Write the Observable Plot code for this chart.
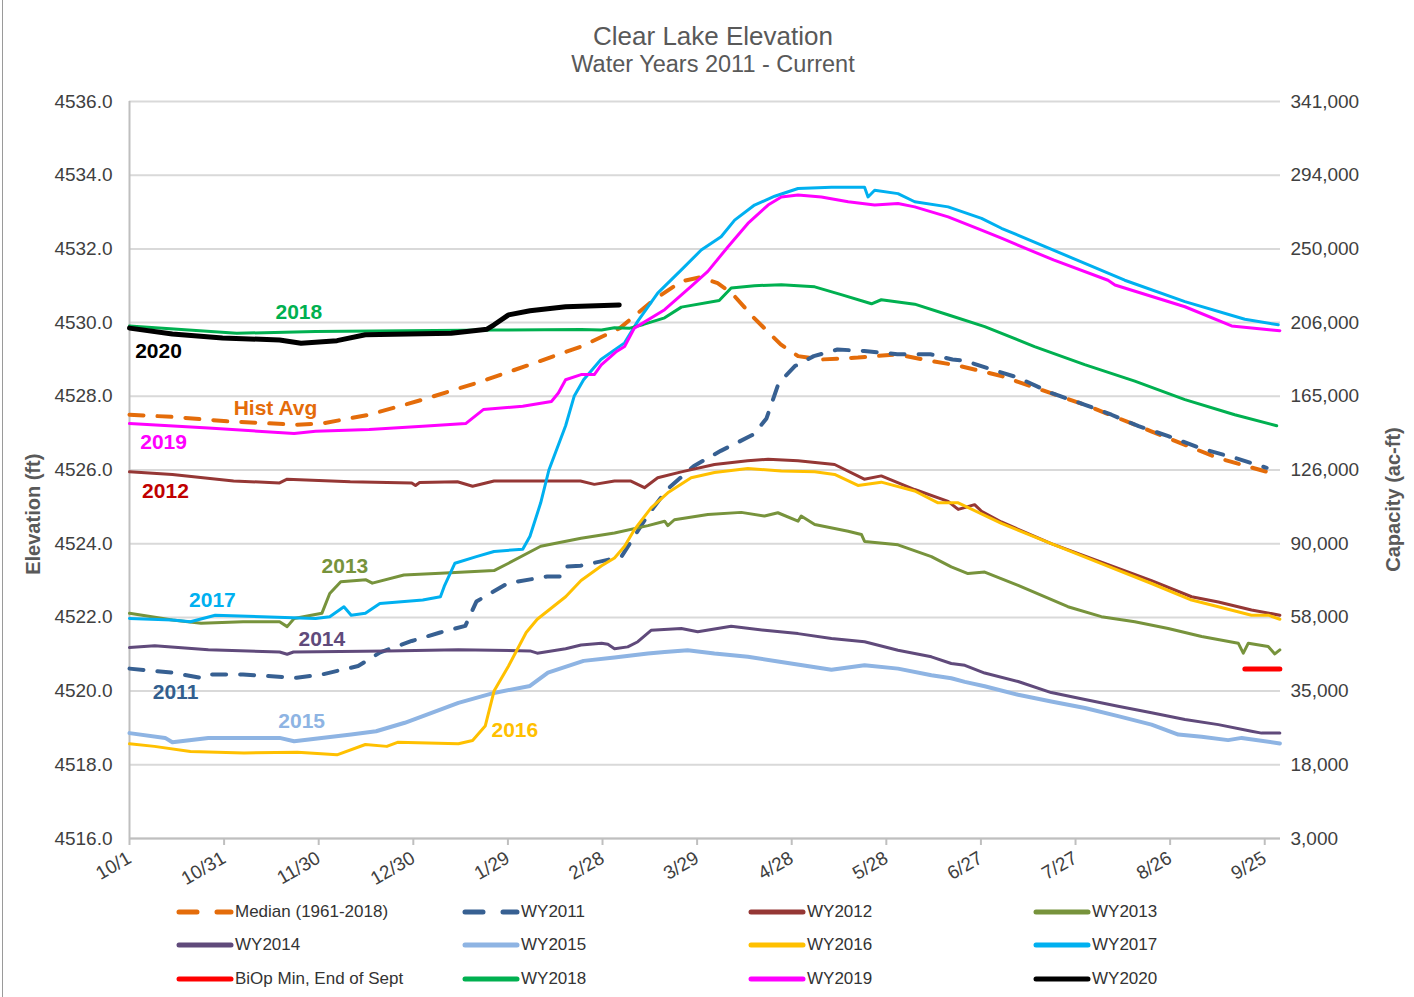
<!DOCTYPE html>
<html>
<head>
<meta charset="utf-8">
<script src="https://cdn.jsdelivr.net/npm/d3@7"></script>
<script src="https://cdn.jsdelivr.net/npm/@observablehq/plot@0.6"></script>
<style>
  body { margin: 0; background: #fff; font-family: "Liberation Sans", Arial, sans-serif; }
  #wrap { position: relative; width: 1414px; height: 997px; overflow: hidden; background: #fff; }
  .ttl { position: absolute; left: 6px; width: 1414px; text-align: center; color: #595959; white-space: nowrap; }
  #chart { position: absolute; left: 0; top: 0; }
  .leg { position: absolute; height: 20px; display: flex; align-items: center; font-size: 17px; color: #333; white-space: nowrap; }
  .leg svg { display: block; margin-right: 1px; }
  #edge { position: absolute; left: 2px; top: 0; width: 1px; height: 997px; background: #9a9a9a; }
</style>
</head>
<body>
<div id="wrap">
  <div id="edge"></div>
  <div id="chart"></div>
  <div class="ttl" style="top:23px;font-size:26px;line-height:26px;">Clear Lake Elevation</div>
  <div class="ttl" style="top:53px;font-size:23.5px;line-height:23px;">Water Years 2011 - Current</div>
  <div id="legend"></div>
</div>
<script>
// ---------- axis tick data ----------
const elevTicks = [4516, 4518, 4520, 4522, 4524, 4526, 4528, 4530, 4532, 4534, 4536];
const capLabels = ["3,000", "18,000", "35,000", "58,000", "90,000", "126,000", "165,000", "206,000", "250,000", "294,000", "341,000"];
const tickDays = [0, 30, 60, 90, 120, 150, 180, 210, 240, 270, 300, 330, 360];
const dateLabels = ["10/1", "10/31", "11/30", "12/30", "1/29", "2/28", "3/29", "4/28", "5/28", "6/27", "7/27", "8/26", "9/25"];

// ---------- series: [day of water year, elevation ft] ----------
const median = [[0,4527.50],[14,4527.44],[31,4527.32],[53,4527.23],[61,4527.26],[76,4527.50],[93,4527.91],[110,4528.36],[127,4528.86],[143.5,4529.36],[155.5,4529.85],[166,4530.6],[175,4531.12],[181,4531.23],[186.5,4531.07],[191,4530.8],[198,4530.13],[206.5,4529.41],[212,4529.09],[219.5,4529.0],[231,4529.05],[243.5,4529.14],[254,4528.96],[263,4528.83],[276.5,4528.55],[292,4528.09],[303,4527.77],[313.5,4527.41],[324,4527.05],[334.5,4526.69],[345,4526.33],[361.5,4525.93]];
const wy2011 = [[0,4520.61],[13.6,4520.5],[22.7,4520.36],[25,4520.45],[36,4520.45],[53,4520.36],[61,4520.45],[72.5,4520.68],[79.5,4521.05],[89.5,4521.36],[98.5,4521.59],[106.5,4521.77],[110,4522.43],[120,4522.93],[132.5,4523.11],[137,4523.11],[138.5,4523.38],[143,4523.4],[149.5,4523.52],[156,4523.65],[164.5,4524.79],[170.5,4525.47],[179,4526.11],[187.5,4526.52],[198,4526.97],[202,4527.4],[205.5,4528.27],[208,4528.55],[211,4528.82],[217,4529.09],[224.5,4529.27],[233,4529.23],[243.5,4529.14],[254,4529.14],[261,4529.0],[265,4528.96],[273,4528.74],[282,4528.5],[292.3,4528.09],[303,4527.77],[311.4,4527.5],[320,4527.19],[329.4,4526.92],[340,4526.58],[350.5,4526.33],[360.6,4526.06]];
const wy2012 = [[0,4525.95],[13.6,4525.88],[33,4525.7],[47.6,4525.65],[50,4525.75],[70,4525.68],[89.5,4525.65],[90.7,4525.58],[92,4525.66],[104,4525.68],[108.8,4525.56],[115.6,4525.7],[138,4525.7],[143,4525.7],[147.4,4525.61],[153.8,4525.7],[159,4525.7],[163.3,4525.52],[167.5,4525.79],[175,4525.95],[185.5,4526.15],[196,4526.25],[202.5,4526.29],[212,4526.25],[223.6,4526.15],[233,4525.75],[238.4,4525.84],[249,4525.47],[259.6,4525.15],[262.8,4524.93],[268,4525.06],[270.2,4524.88],[276.5,4524.59],[292.3,4524.0],[308.2,4523.5],[324.1,4523.0],[336.8,4522.56],[345.3,4522.42],[355.8,4522.2],[364.8,4522.06]];
const wy2013 = [[0,4522.11],[13.6,4521.93],[22.7,4521.84],[36,4521.88],[47.6,4521.88],[50,4521.75],[52.2,4521.97],[61,4522.11],[63.5,4522.65],[67,4522.97],[75,4523.02],[77,4522.93],[87,4523.15],[98.6,4523.2],[115.6,4523.27],[120.2,4523.47],[130.4,4523.93],[143.2,4524.15],[153.8,4524.29],[164.4,4524.49],[169.7,4524.61],[170.7,4524.49],[172.8,4524.65],[183.4,4524.79],[194,4524.85],[201.4,4524.75],[205.6,4524.84],[212,4524.61],[213,4524.75],[217.3,4524.52],[227.9,4524.34],[232.1,4524.25],[233.1,4524.06],[243.7,4523.97],[254.3,4523.65],[260.6,4523.37],[265.9,4523.19],[271.2,4523.23],[281.8,4522.87],[297.6,4522.29],[308.2,4522.02],[318.8,4521.88],[329.4,4521.7],[340,4521.48],[351.6,4521.3],[353.2,4521.03],[354.8,4521.3],[361.1,4521.21],[363.2,4521.01],[364.8,4521.12]];
const wy2014 = [[0,4521.18],[8,4521.23],[25,4521.12],[47.6,4521.06],[50,4521.0],[52,4521.06],[81.6,4521.09],[104.3,4521.12],[127,4521.09],[129.3,4521.03],[138.3,4521.15],[143.2,4521.25],[149.7,4521.3],[151.7,4521.27],[153.8,4521.15],[158,4521.2],[161.2,4521.34],[165.4,4521.65],[175,4521.7],[180.2,4521.61],[190.8,4521.76],[201.4,4521.65],[212,4521.56],[222.6,4521.43],[233.1,4521.34],[243.7,4521.11],[254.3,4520.93],[260.6,4520.75],[264.9,4520.7],[271.2,4520.49],[281.8,4520.26],[292.3,4519.96],[303,4519.77],[313.5,4519.59],[324.1,4519.41],[334.7,4519.23],[345.3,4519.09],[355.8,4518.91],[359,4518.86],[364.8,4518.86]];
const wy2015 = [[0,4518.86],[11.3,4518.73],[13.6,4518.61],[25,4518.73],[47.6,4518.73],[52.2,4518.64],[70.3,4518.82],[78.2,4518.91],[87.3,4519.14],[104.3,4519.68],[115.6,4519.95],[127,4520.14],[132.7,4520.5],[144,4520.82],[153.8,4520.91],[164.4,4521.02],[169.7,4521.06],[177,4521.11],[185.5,4521.02],[196.1,4520.93],[206.7,4520.79],[222.6,4520.58],[233.1,4520.7],[243.7,4520.61],[254.3,4520.43],[260.6,4520.35],[264.9,4520.25],[271.2,4520.13],[281.8,4519.9],[292.3,4519.72],[303,4519.54],[313.5,4519.32],[324.1,4519.09],[332.6,4518.82],[340,4518.76],[348.4,4518.67],[352.7,4518.73],[364.8,4518.58]];
const wy2016 = [[0,4518.57],[7.9,4518.5],[19.3,4518.36],[36.3,4518.32],[53.3,4518.34],[65.8,4518.27],[74.8,4518.55],[81.6,4518.5],[85,4518.61],[104.3,4518.57],[108.8,4518.66],[112.8,4519.05],[115.6,4520.0],[120.2,4520.68],[125.8,4521.59],[129.3,4521.95],[138.3,4522.56],[143.2,4523.0],[149.7,4523.4],[153.8,4523.61],[157,4523.93],[160.1,4524.38],[165.4,4524.97],[170.7,4525.38],[178.1,4525.79],[185.5,4525.93],[196.1,4526.04],[206.7,4525.97],[217.3,4525.95],[223.6,4525.88],[231,4525.58],[238.4,4525.67],[249,4525.43],[256.4,4525.11],[262.8,4525.11],[276.5,4524.55],[292.3,4524.0],[308.2,4523.46],[324.1,4522.92],[336.8,4522.47],[345.3,4522.29],[355.8,4522.06],[361.1,4522.06],[364.8,4521.95]];
const wy2017 = [[0,4521.97],[13.6,4521.93],[19.3,4521.88],[27.2,4522.06],[42,4522.02],[59,4521.97],[63.5,4522.02],[68,4522.29],[70.3,4522.06],[74.8,4522.11],[79.4,4522.38],[93,4522.47],[98.6,4522.56],[99.8,4522.84],[103.2,4523.47],[110,4523.65],[115.6,4523.79],[124.7,4523.85],[127,4524.2],[130.4,4525.11],[133,4526.0],[138.3,4527.2],[141,4528.0],[144,4528.45],[149.5,4529.0],[154.5,4529.3],[157,4529.45],[161.2,4530.04],[167.5,4530.8],[175,4531.43],[181.3,4531.97],[187.6,4532.33],[191.9,4532.78],[198.2,4533.19],[204.6,4533.43],[212,4533.64],[222.6,4533.67],[233.1,4533.67],[234.2,4533.41],[236.3,4533.59],[243.7,4533.5],[249,4533.28],[259.6,4533.14],[270.2,4532.83],[276.5,4532.56],[299,4531.75],[315.6,4531.15],[334.7,4530.57],[353.7,4530.09],[364.3,4529.94]];
const biopMin = [[353.7,4520.6],[364.8,4520.6]];
const wy2018 = [[0,4529.91],[34,4529.71],[59,4529.76],[115.6,4529.8],[143.2,4529.81],[149.7,4529.8],[153.8,4529.86],[158.7,4529.85],[163,4529.95],[169.7,4530.13],[175,4530.42],[187,4530.6],[190.8,4530.94],[198.2,4531.0],[206.7,4531.03],[217.3,4530.97],[225.7,4530.76],[235.3,4530.51],[238.4,4530.62],[249,4530.5],[260,4530.2],[271.2,4529.89],[287,4529.35],[302.9,4528.86],[318.8,4528.41],[334.7,4527.91],[350.5,4527.5],[363.8,4527.2]];
const wy2019 = [[0,4527.26],[25,4527.14],[52.2,4526.99],[59,4527.05],[76,4527.1],[93,4527.19],[106.6,4527.26],[112.2,4527.64],[124.7,4527.73],[133.8,4527.86],[136,4528.09],[138.3,4528.45],[143.2,4528.59],[147.4,4528.59],[149.6,4528.85],[154.2,4529.2],[157,4529.35],[160.1,4529.85],[169.7,4530.35],[178.1,4530.98],[183.4,4531.39],[189.8,4532.06],[196.1,4532.69],[202.5,4533.19],[206.7,4533.41],[212,4533.46],[219.4,4533.41],[227.9,4533.28],[236.3,4533.19],[243.7,4533.23],[249,4533.14],[259.6,4532.87],[270.2,4532.51],[276.5,4532.29],[293,4531.7],[310.3,4531.15],[312.5,4531.02],[334.7,4530.43],[349.5,4529.91],[362.2,4529.8],[364.8,4529.78]];
const wy2020 = [[0,4529.85],[13.6,4529.69],[29.5,4529.58],[47.6,4529.53],[54.4,4529.44],[65.8,4529.51],[74.8,4529.67],[102,4529.71],[113.4,4529.82],[115.6,4529.94],[120.2,4530.21],[127,4530.32],[138.3,4530.43],[155.3,4530.48]];

// ---------- inline series labels ----------
const labelText = ["2018", "2020", "Hist Avg", "2019", "2012", "2013", "2017", "2014", "2011", "2015", "2016"];
const labelDay  = [53.7, 9.2, 46.3, 10.8, 11.4, 68.3, 26.3, 61, 14.6, 54.6, 122.2];
const labelElev = [4530.27, 4529.22, 4527.67, 4526.75, 4525.42, 4523.38, 4522.46, 4521.4, 4519.96, 4519.18, 4518.93];

// ---------- axis titles (anchored in data space, outside the frame) ----------
const axisTitleText = ["Elevation (ft)", "Capacity (ac-ft)"];
const axisTitleDay  = [-30.5, 401];
const axisTitleElev = [4524.8, 4525.2];

// ---------- styles ----------
const series = [
  {name: "Median (1961-2018)", data: median, color: "#E46C0A", width: 4, dash: "14,14"},
  {name: "WY2011", data: wy2011, color: "#376092", width: 4, dash: "14,14"},
  {name: "WY2012", data: wy2012, color: "#953735", width: 3},
  {name: "WY2013", data: wy2013, color: "#77933C", width: 3},
  {name: "WY2014", data: wy2014, color: "#604A7B", width: 3},
  {name: "WY2015", data: wy2015, color: "#8EB4E3", width: 4},
  {name: "WY2016", data: wy2016, color: "#FFC000", width: 3},
  {name: "WY2017", data: wy2017, color: "#00B0F0", width: 3},
  {name: "BiOp Min, End of Sept", data: biopMin, color: "#FF0000", width: 5},
  {name: "WY2018", data: wy2018, color: "#00B050", width: 3},
  {name: "WY2019", data: wy2019, color: "#FF00FF", width: 3},
  {name: "WY2020", data: wy2020, color: "#000000", width: 5}
];
const labelColor = ["#00B050", "#000000", "#E46C0A", "#FF00FF", "#C00000", "#77933C", "#00B0F0", "#604A7B", "#335F8F", "#8EB4E3", "#FFC000"];

const capMap = new Map(elevTicks.map((t, i) => [t, capLabels[i]]));
const dateMap = new Map(tickDays.map((t, i) => [t, dateLabels[i]]));
const labels = labelText.map((t, i) => ({t, d: labelDay[i], e: labelElev[i], c: labelColor[i]}));
const axisTitles = axisTitleText.map((t, i) => ({t, d: axisTitleDay[i], e: axisTitleElev[i]}));

const lineMarks = series.map(s => Plot.line(s.data, {
  x: d => d[0], y: d => d[1],
  stroke: s.color, strokeWidth: s.width,
  strokeDasharray: s.dash || null,
  strokeLinecap: "round", strokeLinejoin: "round"
}));

const chart = Plot.plot({
  width: 1414, height: 895,
  marginTop: 101, marginBottom: 57, marginLeft: 129, marginRight: 134,
  style: {fontFamily: "'Liberation Sans', Arial, sans-serif", fontSize: "19px", color: "#404040", background: "transparent", overflow: "visible"},
  x: {domain: [0, 365], label: null},
  y: {domain: [4516, 4536], label: null},
  marks: [
    Plot.ruleY(elevTicks, {stroke: "#d9d9d9", strokeWidth: 2}),
    Plot.ruleX([0], {stroke: "#bfbfbf", strokeWidth: 2}),
    Plot.ruleY([4516], {stroke: "#bfbfbf", strokeWidth: 2}),
    Plot.ruleX(tickDays, {y1: 4516, y2: 4516, insetBottom: -7, stroke: "#bfbfbf", strokeWidth: 2}),
    Plot.axisY({ticks: elevTicks, tickFormat: d => d.toFixed(1), tickSize: 0, tickPadding: 17, label: null, fill: "#404040"}),
    Plot.axisY({anchor: "right", ticks: elevTicks, tickFormat: d => capMap.get(d), tickSize: 0, tickPadding: 10, label: null, fill: "#404040"}),
    Plot.axisX({ticks: tickDays, tickFormat: d => dateMap.get(d), tickSize: 0, tickPadding: 18, tickRotate: -30, label: null, fill: "#404040"}),
    ...lineMarks,
    Plot.text(labels, {x: "d", y: "e", text: "t", fill: "c", fontSize: 21, fontWeight: "bold"}),
    Plot.text(axisTitles, {x: "d", y: "e", text: "t", rotate: -90, fontSize: 20, fontWeight: "bold", fill: "#595959"})
  ]
});
document.getElementById("chart").appendChild(chart);

// ---------- legend ----------
const legCols = [176, 462, 748, 1033];
const legRows = [912, 945, 979];
const legEl = document.getElementById("legend");
series.forEach((s, i) => {
  const div = document.createElement("div");
  div.className = "leg";
  div.style.left = legCols[i % 4] + "px";
  div.style.top = (legRows[Math.floor(i / 4)] - 10) + "px";
  const dash = s.dash ? ' stroke-dasharray="18,20"' : '';
  div.innerHTML = `<svg width="58" height="10"><line x1="3" y1="5" x2="55" y2="5" stroke="${s.color}" stroke-width="5" stroke-linecap="round"${dash}/></svg><span>${s.name}</span>`;
  legEl.appendChild(div);
});
</script>
</body>
</html>
